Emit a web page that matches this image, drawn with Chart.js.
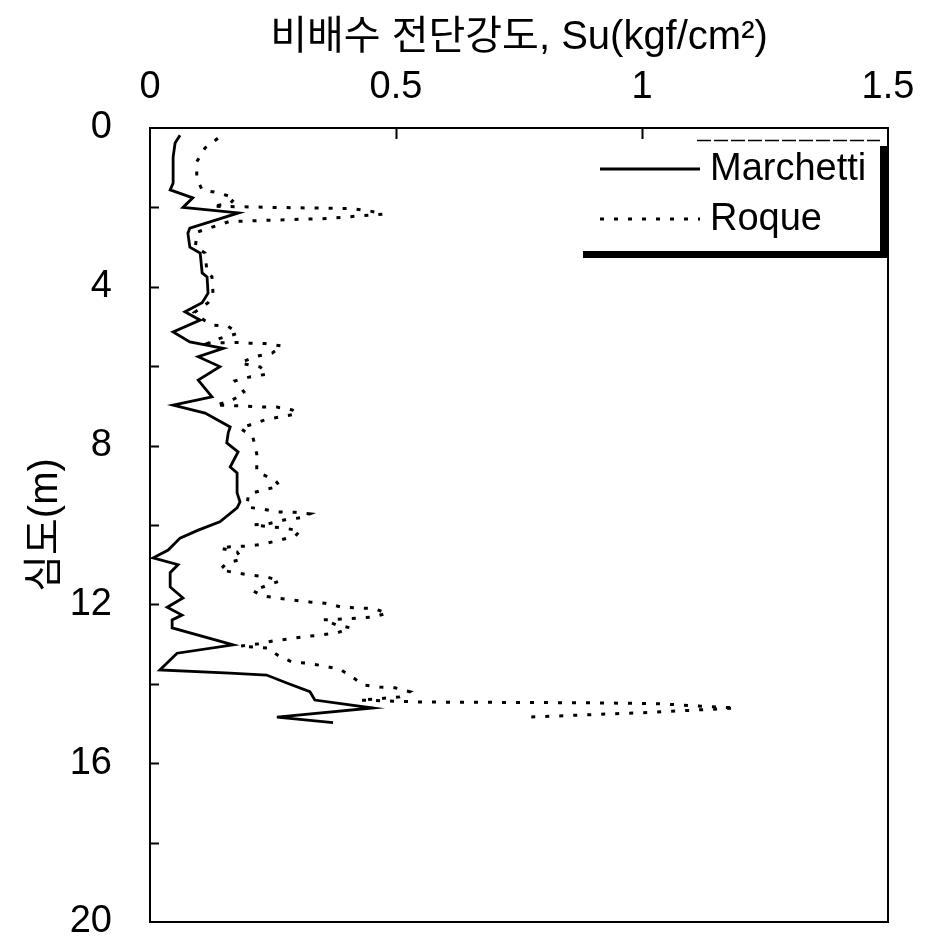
<!DOCTYPE html>
<html><head><meta charset="utf-8">
<script src="https://cdn.jsdelivr.net/npm/chart.js@4/dist/chart.umd.min.js"></script>
<style>
html,body{margin:0;padding:0;background:#fff;overflow:hidden;}
#wrap{position:relative;width:934px;height:951px;}
</style>
</head><body>
<div id="wrap"><canvas id="c"></canvas></div>
<script>
// ---- data ----
const seriesNames = ['Marchetti', 'Roque'];
const xTitle = '비배수 전단강도, Su(kgf/cm²)';
const yTitle = '심도(m)';
const suTicks = [0, 0.5, 1, 1.5];
const depthTicks = [0, 4, 8, 12, 16, 20];
const depthMinorTicks = [2, 4, 6, 8, 10, 12, 14, 16, 18];
const suMinorTicks = [0.5, 1];

const marchettiDepth = [0.18,0.38,0.73,1.39,1.56,1.76,2.0,2.14,2.52,2.65,3.0,3.15,3.65,3.75,4.16,4.4,4.63,4.84,5.14,5.39,5.55,5.76,6.01,6.35,6.77,6.98,7.18,7.53,7.68,7.93,8.16,8.54,8.69,9.19,9.42,9.57,9.92,10.13,10.33,10.63,10.83,11.0,11.2,11.56,11.84,12.07,12.27,12.39,12.59,13.02,13.23,13.65,13.73,13.78,13.98,14.2,14.41,14.61,14.84,14.98];
const marchettiSu = [0.061,0.051,0.047,0.047,0.041,0.087,0.067,0.18,0.081,0.077,0.081,0.102,0.106,0.116,0.118,0.106,0.071,0.102,0.047,0.081,0.149,0.098,0.142,0.098,0.126,0.047,0.112,0.163,0.159,0.156,0.179,0.163,0.177,0.177,0.183,0.177,0.142,0.098,0.061,0.037,0.006,0.057,0.041,0.041,0.067,0.035,0.065,0.045,0.045,0.169,0.055,0.02,0.163,0.237,0.278,0.325,0.335,0.453,0.258,0.372];

const roqueDepth = [0.26,0.5,0.85,1.27,1.56,1.63,1.76,1.9,1.97,2.0,2.03,2.1,2.17,2.22,2.28,2.32,2.36,2.62,3.0,3.15,3.65,3.75,4.16,4.4,4.65,4.84,4.96,5.0,5.17,5.3,5.42,5.4,5.42,5.43,5.49,5.67,5.76,5.92,6.02,6.2,6.27,6.37,6.68,6.9,6.98,7.0,7.03,7.03,7.1,7.2,7.27,7.35,7.48,7.56,7.78,8.21,8.66,8.87,9.02,9.12,9.22,9.55,9.6,9.67,9.68,9.72,9.82,9.87,9.97,10.0,10.08,10.15,10.28,10.38,10.48,10.53,10.55,10.58,10.68,10.86,10.96,11.13,11.2,11.26,11.31,11.41,11.54,11.66,11.79,11.84,11.89,11.94,11.97,12.07,12.09,12.1,12.22,12.32,12.37,12.39,12.52,12.59,12.72,12.77,12.82,12.87,12.92,13.0,13.05,13.1,13.32,13.45,13.48,13.55,13.63,13.88,14.03,14.08,14.1,14.2,14.33,14.38,14.41,14.46,14.47,14.48,14.5,14.61,14.72,14.84];
const roqueSu = [0.138,0.112,0.095,0.095,0.106,0.138,0.173,0.163,0.126,0.25,0.41,0.45,0.474,0.42,0.36,0.25,0.16,0.096,0.092,0.112,0.116,0.126,0.128,0.118,0.09,0.11,0.126,0.159,0.179,0.142,0.118,0.173,0.203,0.234,0.268,0.248,0.213,0.183,0.224,0.238,0.203,0.173,0.193,0.159,0.132,0.19,0.224,0.258,0.289,0.299,0.268,0.234,0.203,0.183,0.209,0.217,0.217,0.254,0.264,0.23,0.2,0.197,0.23,0.26,0.295,0.325,0.305,0.274,0.24,0.209,0.274,0.305,0.295,0.264,0.23,0.2,0.163,0.142,0.177,0.187,0.156,0.142,0.173,0.203,0.238,0.264,0.234,0.209,0.23,0.26,0.291,0.325,0.356,0.39,0.42,0.453,0.482,0.453,0.39,0.352,0.38,0.407,0.38,0.346,0.311,0.281,0.25,0.217,0.183,0.24,0.264,0.289,0.321,0.352,0.386,0.417,0.433,0.467,0.498,0.528,0.508,0.46,0.427,0.555,0.75,0.9,1.03,1.19,1.016,0.766];

// ---- chart ----
const FONT = "'Liberation Sans', Arial, 'Noto Sans CJK KR', sans-serif";
const toPts = (xs, ys) => xs.map((x, i) => ({ x: x, y: ys[i] }));

const decorPlugin = {
  id: 'decor',
  afterDatasetsDraw(chart) {
    const ctx = chart.ctx;
    const a = chart.chartArea;
    const xs = chart.scales.x, ys = chart.scales.y;
    ctx.save();
    ctx.strokeStyle = '#000';
    ctx.fillStyle = '#000';
    ctx.lineWidth = 2;
    ctx.setLineDash([]);
    ctx.strokeRect(a.left, a.top, a.right - a.left, a.bottom - a.top);
    // inward ticks
    ctx.beginPath();
    depthMinorTicks.forEach(v => {
      const y = Math.round(ys.getPixelForValue(v)) + 0.5;
      ctx.moveTo(a.left, y); ctx.lineTo(a.left + 9, y);
    });
    suMinorTicks.forEach(v => {
      const x = Math.round(xs.getPixelForValue(v)) + 0.5;
      ctx.moveTo(x, a.top); ctx.lineTo(x, a.top + 11);
    });
    ctx.stroke();

    // legend (inside plot, top-right)
    const ds = chart.data.datasets;
    const rows = [a.top + 41, a.top + 91];
    const sx0 = a.right - 288, sx1 = a.right - 188, tx = a.right - 178;
    ctx.font = '38px ' + FONT;
    ctx.textBaseline = 'middle';
    ctx.textAlign = 'left';
    ds.forEach((d, i) => {
      ctx.beginPath();
      ctx.lineWidth = d.borderWidth;
      ctx.setLineDash(d.borderDash || []);
      ctx.moveTo(sx0, rows[i]); ctx.lineTo(sx1, rows[i]);
      ctx.stroke();
      ctx.setLineDash([]);
      ctx.fillText(d.label, tx, rows[i] + 1);
    });
    // legend frame: thin dashed top, heavy shadow right & bottom
    ctx.beginPath();
    ctx.lineWidth = 1.5;
    ctx.setLineDash([14, 3]);
    ctx.moveTo(a.right - 191, a.top + 12.5); ctx.lineTo(a.right - 8, a.top + 12.5);
    ctx.stroke();
    ctx.setLineDash([]);
    ctx.fillRect(a.right - 305, a.top + 123, 305, 7);
    ctx.fillRect(a.right - 8, a.top + 18, 7, 112);
    ctx.restore();
  }
};

new Chart(document.getElementById('c'), {
  type: 'scatter',
  data: {
    datasets: [
      { label: seriesNames[0], data: toPts(marchettiSu, marchettiDepth), showLine: true,
        borderColor: '#000', borderWidth: 2.8, pointRadius: 0, tension: 0 },
      { label: seriesNames[1], data: toPts(roqueSu, roqueDepth), showLine: true,
        borderColor: '#000', borderWidth: 3, borderDash: [4, 10], pointRadius: 0, tension: 0 }
    ]
  },
  options: {
    responsive: true,
    maintainAspectRatio: false,
    animation: false,
    devicePixelRatio: 1,
    layout: { padding: { left: 0, top: 0, right: 46, bottom: 29 } },
    plugins: { legend: { display: false }, tooltip: { enabled: false } },
    scales: {
      x: {
        type: 'linear', position: 'top', min: 0, max: 1.5,
        afterBuildTicks: s => { s.ticks = suTicks.map(v => ({ value: v })); },
        afterFit: s => { s.height = 128; s.paddingLeft = 0; s.paddingRight = 0; },
        grid: { display: false, drawTicks: false },
        border: { display: false },
        ticks: { color: '#000', font: { family: FONT, size: 38 }, padding: 18, maxRotation: 0, autoSkip: false,
                 callback: v => String(v) },
        title: { display: true, text: xTitle, color: '#000', font: { family: FONT, size: 40 }, padding: { top: 14, bottom: 0 } }
      },
      y: {
        type: 'linear', reverse: true, min: 0, max: 20,
        afterBuildTicks: s => { s.ticks = depthTicks.map(v => ({ value: v })); },
        afterFit: s => { s.width = 150; s.paddingTop = 0; s.paddingBottom = 0; },
        grid: { display: false, drawTicks: false },
        border: { display: false },
        ticks: { color: '#000', font: { family: FONT, size: 38 }, padding: 38, autoSkip: false,
                 callback: v => String(v) },
        title: { display: true, text: yTitle, color: '#000', font: { family: FONT, size: 40 }, padding: { top: 22, bottom: 0 } }
      }
    }
  },
  plugins: [decorPlugin]
});
</script>
</body></html>
